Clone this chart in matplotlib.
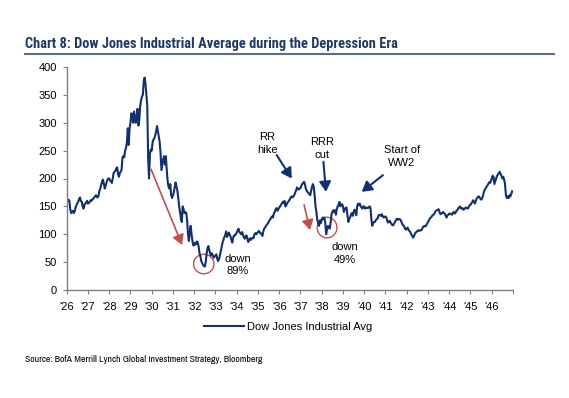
import matplotlib
matplotlib.use("Agg")
import matplotlib.pyplot as plt
import numpy as np
from matplotlib.patches import Ellipse
from matplotlib.lines import Line2D

plt.rcParams['font.family'] = ['Liberation Sans', 'DejaVu Sans']

# Semi-monthly DJIA values (approx. 1st and 15th of each month)
dj_1926 = [157,159,162,160,145,138,140,142,138,141,148,152,156,158,163,166,160,158,150,146,153,155,157,160]
dj_1927 = [155,156,158,161,160,162,164,166,168,170,167,166,170,178,182,189,195,198,190,182,187,193,198,200]
dj_1928 = [200,196,195,192,200,210,212,214,218,220,208,203,210,212,216,238,240,238,250,255,265,290,260,290]
dj_1929 = [300,317,315,300,320,305,300,315,325,295,305,330,340,347,350,375,381,370,350,330,235,200,245,252]
dj_1930 = [250,265,270,272,278,285,294,285,275,265,245,215,225,235,240,225,240,215,195,185,182,190,170,165]
dj_1931 = [170,175,185,193,185,178,165,150,140,128,122,150,145,138,140,138,125,100,88,105,115,100,88,80]
dj_1932 = [80,85,82,87,85,78,66,60,52,48,45,43,42,50,65,75,79,72,65,62,66,62,58,60]
dj_1933 = [62,64,56,52,55,62,70,78,85,90,95,98,105,95,98,103,100,96,90,85,94,98,98,100]
dj_1934 = [103,107,110,104,102,100,104,100,95,92,96,98,92,86,90,93,90,92,94,93,100,102,100,102]
dj_1935 = [104,106,103,102,100,97,105,110,112,115,117,119,122,125,127,130,132,130,138,140,145,147,142,145]
dj_1936 = [148,150,153,155,158,156,160,150,152,156,158,160,163,166,168,166,168,170,175,178,184,182,180,182]
dj_1937 = [183,187,190,192,194,190,182,178,176,174,172,170,178,185,190,185,170,150,140,125,120,115,125,120]
dj_1938 = [125,130,128,130,120,100,110,115,112,110,120,135,140,143,140,143,135,145,150,153,158,150,152,154]
dj_1939 = [150,140,145,147,148,135,122,127,130,135,138,133,140,144,140,134,150,155,152,155,150,148,146,150]
dj_1940 = [150,146,147,148,147,148,150,148,128,115,120,122,122,125,127,128,133,135,134,133,136,132,130,131]
dj_1941 = [132,130,124,121,123,124,120,118,116,117,120,123,126,128,126,127,127,126,122,118,116,115,110,108]
dj_1942 = [110,112,108,106,104,100,98,94,96,100,103,104,106,107,106,107,107,108,112,114,115,114,116,119]
dj_1943 = [122,125,128,130,131,134,135,136,140,142,143,144,145,140,136,137,138,140,138,137,133,130,134,135]
dj_1944 = [137,137,136,135,138,140,137,138,142,143,146,148,150,147,146,147,144,145,147,148,147,146,149,152]
dj_1945 = [153,155,158,161,158,155,160,164,166,168,167,164,162,164,168,175,180,182,185,187,190,193,192,195]
dj_1946 = [200,205,203,190,195,200,205,207,210,212,208,205,200,203,198,190,170,165,168,165,170,168,172,177]

start_year = 1926
tick_years = list(range(1926, 1947))
tick_labels = ["'%02d" % (y % 100) for y in tick_years]
y_ticks = [0, 50, 100, 150, 200, 250, 300, 350, 400]

values = np.array(dj_1926 + dj_1927 + dj_1928 + dj_1929 + dj_1930 + dj_1931 + dj_1932 +
                  dj_1933 + dj_1934 + dj_1935 + dj_1936 + dj_1937 + dj_1938 + dj_1939 +
                  dj_1940 + dj_1941 + dj_1942 + dj_1943 + dj_1944 + dj_1945 + dj_1946, dtype=float)
t = start_year + np.arange(len(values)) / 24.0

navy = '#12306E'
red = '#C0504D'
axis_gray = '#7F7F7F'

fig = plt.figure(figsize=(5.69, 3.98), dpi=100)
ax = fig.add_axes([66.7/569, 1-290/398, (513-66.7)/569, (290-67)/398])

ax.plot(t, values, color=navy, lw=1.5, label='Dow Jones Industrial Avg')

ax.set_xlim(1926, 1947)
ax.set_ylim(0, 400)
ax.set_yticks(y_ticks)
ax.set_xticks(tick_years + [1947])
ax.set_xticklabels(tick_labels + [''])
for s in ['top', 'right']:
    ax.spines[s].set_visible(False)
for s in ['left', 'bottom']:
    ax.spines[s].set_color(axis_gray)
    ax.spines[s].set_linewidth(1.0)
ax.tick_params(axis='both', colors=axis_gray, labelcolor='black', labelsize=8, length=3, width=0.8)
ax.tick_params(axis='x', pad=6)
ax.tick_params(axis='y', pad=4)

# annotations
ap_red = dict(arrowstyle='-|>,head_length=0.6,head_width=0.35', color=red, lw=1.2, shrinkA=0, shrinkB=0)
ap_navy = dict(arrowstyle='-|>,head_length=0.6,head_width=0.35', color=navy, lw=1.5, shrinkA=0, shrinkB=0)
ax.annotate('', xy=(1931.43, 80.7), xytext=(1929.97, 216.5), arrowprops=ap_red)
ax.annotate('', xy=(1937.45, 107.6), xytext=(1937.17, 152.5), arrowprops=ap_red)
ax.add_patch(Ellipse((1932.45, 46.6), 0.96, 35, fill=False, edgecolor=red, lw=1.0))
ax.add_patch(Ellipse((1938.25, 112), 0.93, 37, fill=False, edgecolor=red, lw=1.0))

ax.annotate('', xy=(1936.59, 200), xytext=(1935.88, 242), arrowprops=ap_navy)
ax.annotate('', xy=(1938.20, 176), xytext=(1938.08, 230), arrowprops=ap_navy)
ax.annotate('', xy=(1939.88, 176), xytext=(1940.88, 206), arrowprops=ap_navy)

tk = dict(ha='center', va='center', fontsize=8, color='black', linespacing=1.35)
ax.text(1935.43, 263, 'RR\nhike', **tk)
ax.text(1938.0, 254, 'RRR\ncut', **tk)
ax.text(1941.78, 239.5, 'Start of\nWW2', **tk)
ax.text(1934.06, 45, 'down\n89%', **tk)
ax.text(1939.1, 65.5, 'down\n49%', **tk)

# title and underline
fig.text(25/569, 1-44/398, 'Chart 8: Dow Jones Industrial Average during the Depression Era',
         ha='left', va='center', fontsize=10.4, fontweight='bold', color='#1F3864',
         family=['Roboto Condensed', 'PT Sans Narrow', 'Archivo Narrow', 'DejaVu Sans'])
fig.add_artist(Line2D([25/569, 554/569], [1-53.5/398, 1-53.5/398], color='#5A6E8C', lw=1.5))

# legend
leg = fig.legend(handles=[Line2D([], [], color=navy, lw=1.5)], labels=['Dow Jones Industrial Avg'],
                 loc='center', bbox_to_anchor=(288/569, 1-327/398), frameon=False, fontsize=8,
                 handlelength=3.6, handletextpad=0.3)

fig.text(25/569, 1-360/398, 'Source: BofA Merrill Lynch Global Investment Strategy, Bloomberg',
         ha='left', va='center', fontsize=7, color='black',
         family=['Archivo Narrow', 'Liberation Sans'])

fig.savefig('out.png', dpi=100)
